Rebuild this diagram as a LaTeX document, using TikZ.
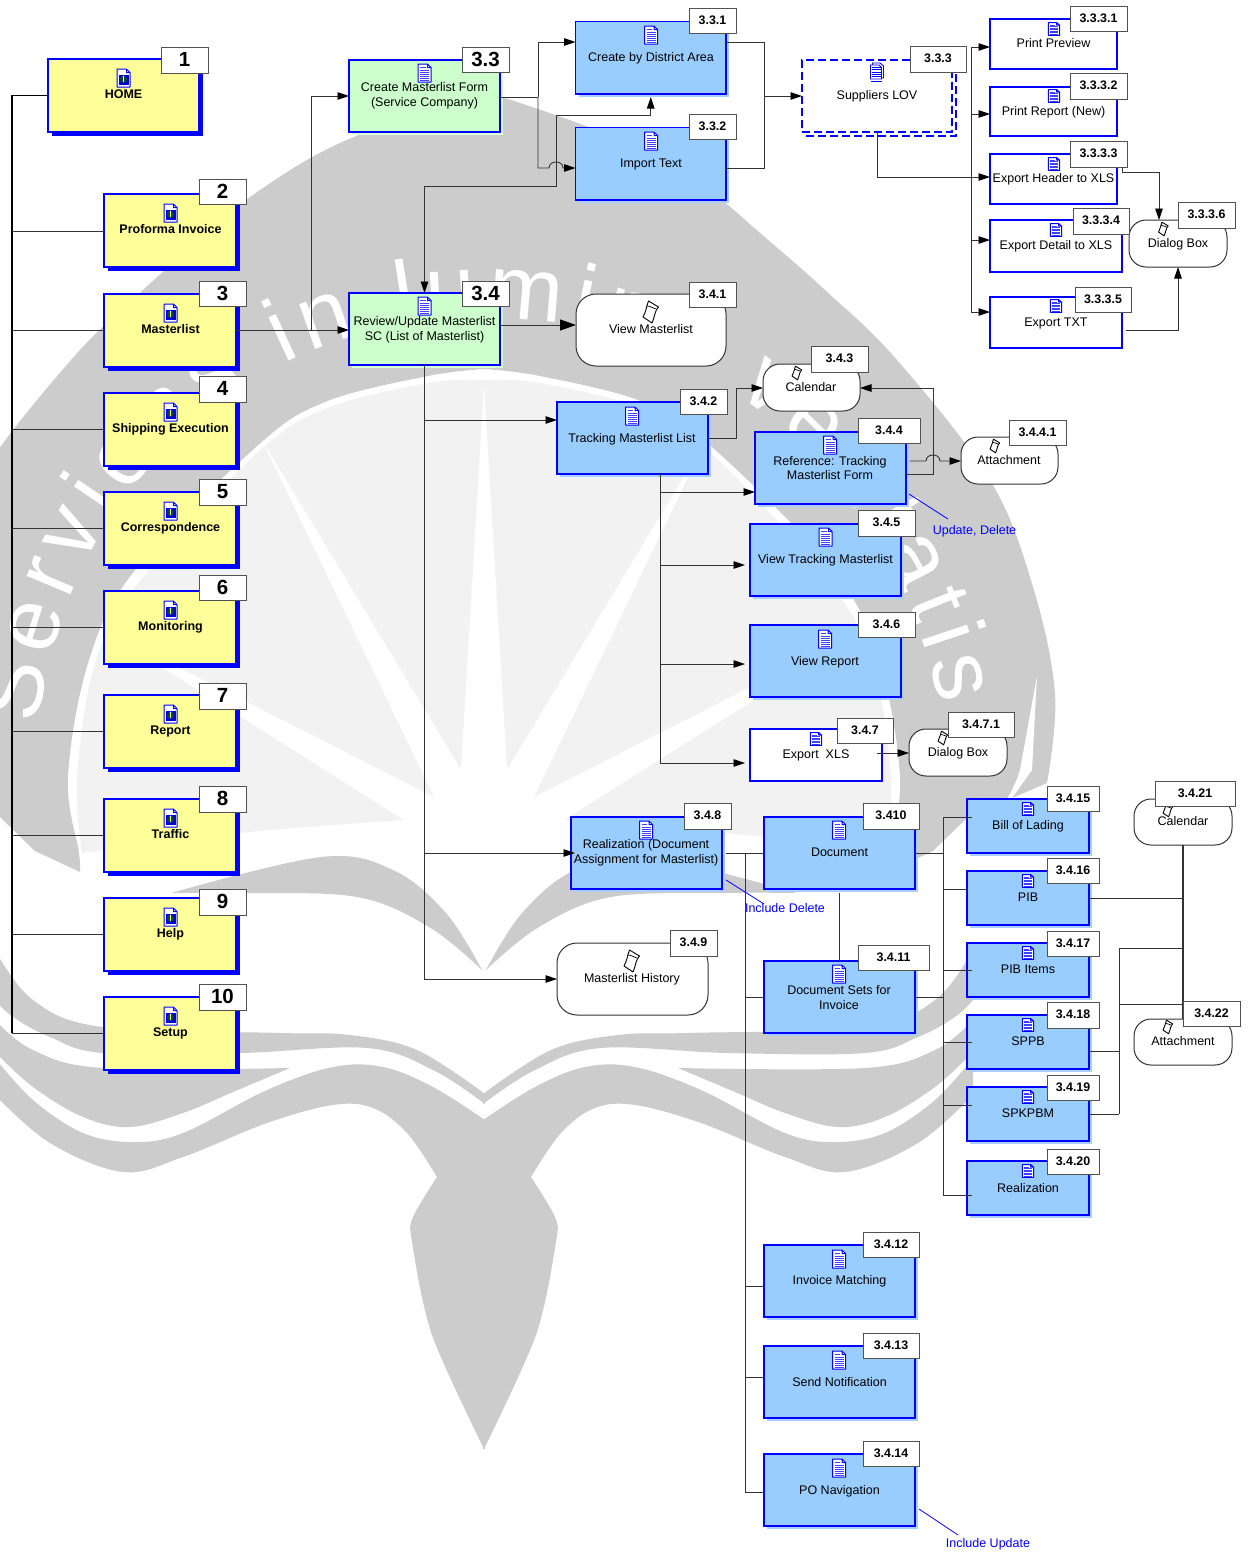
\documentclass[tikz,border=0pt]{standalone}
\usepackage{fontspec}
\setmainfont{Liberation Sans}
\usetikzlibrary{arrows.meta,shadows,decorations.text}
\definecolor{wmgray}{HTML}{CCCCCC}
\definecolor{wmlight}{HTML}{F2F2F2}
\definecolor{boxyellow}{HTML}{FFFF99}
\definecolor{boxgreen}{HTML}{CCFFCC}
\definecolor{boxblue}{HTML}{99CCFF}
\definecolor{shblue}{HTML}{A9CFFF}
\definecolor{shgreen}{HTML}{D8FFD8}
\definecolor{linecol}{HTML}{333333}
\definecolor{pureblue}{HTML}{0000FF}
\tikzset{
  boxbase/.style={rectangle,inner sep=0pt,outer sep=0pt,draw=pureblue,line width=1.4pt},
  yellowbox/.style={boxbase,fill=boxyellow,general shadow={shadow xshift=4pt,shadow yshift=-4pt,fill=pureblue}},
  greenbox/.style={boxbase,fill=boxgreen,general shadow={shadow xshift=3pt,shadow yshift=-3pt,fill=shgreen}},
  bluebox/.style={boxbase,fill=boxblue,general shadow={shadow xshift=3pt,shadow yshift=-3pt,fill=shblue}},
  whitebox/.style={boxbase,fill=white},
  dashbox/.style={boxbase,fill=white,dash pattern=on 8pt off 4pt,general shadow={shadow xshift=4pt,shadow yshift=-4pt,draw=pureblue,line width=1.2pt,dash pattern=on 8pt off 4pt,fill=white}},
  dialogbox/.style={rectangle,inner sep=0pt,outer sep=0pt,draw=linecol,line width=1pt,fill=white,rounded corners=17pt},
  bigdialog/.style={dialogbox,rounded corners=20pt},
  numlabel/.style={rectangle,inner sep=0pt,outer sep=0pt,draw=linecol!85!white,line width=1pt,fill=white,font=\fontsize{12.4}{14}\selectfont\bfseries,text=black},
  biglabel/.style={numlabel,font=\fontsize{20.5}{22}\selectfont\bfseries},
  txt/.style={inner sep=0pt,outer sep=0pt,yshift=-1pt,align=center,font=\fontsize{12.5}{14.5}\selectfont,text=black,text height=9pt,text depth=2.6pt},
  txtm/.style={inner sep=0pt,outer sep=0pt,yshift=-1pt,align=center,font=\fontsize{12.5}{14.5}\selectfont,text=black},
  txtb/.style={txt,font=\fontsize{12.5}{14.5}\selectfont\bfseries},
  bluenote/.style={txt,text=pureblue},
  conn/.style={draw=linecol,line width=.9pt},
  arr/.style={conn,-{Triangle[length=11.5pt,width=7.5pt,color=black,fill=black]}},
  barr/.style={conn,{Triangle[length=11.5pt,width=7.5pt,color=black,fill=black]}-{Triangle[length=11.5pt,width=7.5pt,color=black,fill=black]}},
  bigarr/.style={conn,-{Triangle[length=16pt,width=11pt,color=black,fill=black]}},
  blueline/.style={draw=pureblue,line width=.8pt},
  wm/.style={fill=wmgray},
  doc/.pic={
    \fill[white] (-6.5,-9) -- (3,-9) -- (6.5,-5.5) -- (6.5,9) -- (-6.5,9) -- cycle;
    \foreach \yy in {-3,-1,1,3,5,7} \draw[pureblue!75!white,line width=.9pt] (-4.5,\yy) -- (4.5,\yy);
    \draw[pureblue!75!white,line width=.9pt] (-4.5,-5.5) -- (1,-5.5);
    \draw[pureblue,line width=1pt,line join=round] (-6.5,-9) -- (3,-9) -- (6.5,-5.5) -- (6.5,9) -- (-6.5,9) -- cycle (3,-9) -- (3,-5.5) -- (6.5,-5.5);
  },
  docstack/.pic={
    \draw[pureblue,fill=white,line width=.9pt] (-4.5,-9) -- (3,-9) -- (6.5,-6) -- (6.5,6) -- (-4.5,6) -- cycle;
    \draw[pureblue,fill=white,line width=.9pt] (-6.5,-7) -- (2,-7) -- (4.5,-4.5) -- (4.5,7) -- (-6.5,7) -- cycle;
    \foreach \yy in {-4.5,-2.2,.1,2.4,4.7} \draw[pureblue,line width=.9pt] (-5,\yy) -- (3.5,\yy);
    \draw[pureblue,line width=1pt] (-6,9.3) -- (4.5,9.3);
  },
  info/.pic={
    \fill[white] (-6.5,-9) -- (3,-9) -- (6.5,-5.5) -- (6.5,9) -- (-6.5,9) -- cycle;
    \draw[pureblue,line width=1pt,line join=round] (-6.5,-9) -- (3,-9) -- (6.5,-5.5) -- (6.5,9) -- (-6.5,9) -- cycle (3,-9) -- (3,-5.5) -- (6.5,-5.5);
    \fill[pureblue!85!black] (-5,-3.5) rectangle (5,6.5);
    \fill[teal!55!black] (0,1.5) circle[radius=3.6pt];
    \draw[yellow!60!white,line width=1.1pt] (0,-.6) -- (0,3.8);
    \fill[yellow!60!white] (0,-1.6) circle[radius=.8pt];
  },
  note/.pic={
    \draw[black,fill=white,line width=.9pt,line join=round] (-2.5,-11) -- (7.5,-5) .. controls (4,-2) and (4,4) .. (1,11) -- (-8,5) .. controls (-5,0) and (-4.5,-6) .. (-2.5,-11) -- cycle;
    \draw[black,line width=.7pt] (-4.4,-6) .. controls (-1,-6.5) and (3,-3) .. (5.2,-3);
  }
}
\newcommand{\bx}[6]{\node[#2,minimum width={(#5-#3)*1pt},minimum height={(#6-#4)*1pt}] (#1) at ({(#3+#5)/2},{(#4+#6)/2}) {};}
\newcommand{\tx}[5]{\node[#2] (#1) at (#3,#4) {#5};}
\newcommand{\ic}[5]{\pic[xscale=#4,yscale=#5] at (#2,#3) {#1};}
\newcommand{\lb}[7]{\node[#6,minimum width={(#4-#2)*1pt},minimum height={(#5-#3)*1pt}] (#1) at ({(#2+#4)/2},{(#3+#5)/2}) {\raisebox{1.1pt}{#7}};}
\newcommand{\ybx}[5]{\bx{#1}{yellowbox}{104}{#2}{236}{#2+73}\ic{info}{170.5}{#2+19}{1}{1}\tx{#1-t}{txtb}{170.5}{#2+35.5}{#4}}
\newcommand{\wmhalf}{%
  % shield rim
  \fill[wm] plot[smooth,tension=.6] coordinates {(485,96) (457,100) (340,143) (260,190) (208,233) (143,290) (71,360) (-22,480) (-65,587) (-87,694) (-79,783)}
     -- (0,817) -- (35,851) -- (80,872)
     -- plot[smooth,tension=.6] coordinates {(80,872) (79,853) (68,777) (89,660) (135,570) (256,447) (325,402) (428,376) (485,369)} -- cycle;
  % inner light field
  \fill[wmlight] plot[smooth,tension=.6] coordinates {(485,380) (428,383) (325,409) (256,454) (143,577) (96,660) (77,777) (82,853)}
     -- plot[smooth,tension=.6] coordinates {(82,853) (250,832) (404,820)} -- (485,820) -- cycle;
  % book leaf
  \fill[wm] plot[smooth,tension=.6] coordinates {(171,893) (321,857) (393,870) (446,913) (482,970)}
     -- plot[smooth,tension=.6] coordinates {(482,970) (429,927) (357,897) (243,893) (171,893)} -- cycle;
  % band 1
  \fill[wm] plot[smooth,tension=.6] coordinates {(-5,950) (33,1000) (103,1027) (283,1033) (350,1035) (417,1050) (485,1094)}
     -- plot[smooth,tension=.6] coordinates {(485,1104) (433,1070) (367,1048) (240,1053) (103,1053) (50,1037) (13,1017) (-5,1000)} -- cycle;
  % band 2
  \fill[wm] plot[smooth,tension=.6] coordinates {(-5,1020) (33,1050) (103,1068) (290,1068)}
     -- plot[smooth,tension=.6] coordinates {(290,1068) (233,1092) (183,1113) (130,1127) (83,1117) (33,1087) (-5,1052)} -- cycle;
  % band 3 and tail
  \fill[wm] plot[smooth,tension=.6] coordinates {(-5,1058) (33,1100) (83,1133) (133,1142) (183,1133) (267,1090) (333,1067) (383,1067) (433,1087) (485,1120)}
     -- (485,1449)
     -- plot[smooth,tension=.5] coordinates {(484,1449) (432,1335) (412,1242) (413,1217) (437,1177)}
     -- plot[smooth,tension=.6] coordinates {(437,1177) (407,1133) (373,1108) (333,1105) (267,1123) (183,1157) (123,1172) (50,1143) (-5,1095)} -- cycle;
  % rim sliver
  \fill[white] (-69,676) -- (-52,770) .. controls (-40,810) and (-10,835) .. (8,840) -- (-32,815) -- (-64,770) -- cycle;
}
\begin{document}
\begin{tikzpicture}[x=1pt,y=-1pt]
\useasboundingbox (0,0) rectangle (1248,1553);
\begin{scope}
\clip (0,0) rectangle (1248,1553);
\wmhalf
\begin{scope}[xshift=968pt,xscale=-1]
\wmhalf
\end{scope}
% white star rays
\fill[white] (404,820) -- (95,625) -- (434,797) -- (262,440) -- (461,770) -- (484,385) -- (507,770) -- (706,440) -- (534,797) -- (873,625) -- (564,820) -- cycle;
% motto
\path[decorate,decoration={text along path,text align={fit to path},
  text={|\fontsize{90}{90}\selectfont\color{white}|Serviens in lumine veritatis}}]
  (38,725) .. controls (70,470) and (263,318) .. (484,318) .. controls (705,318) and (890,470) .. (940,705);
\end{scope}

% ---------- yellow menu
\bx{home}{yellowbox}{48}{59}{199}{132}\ic{info}{123.5}{78}{1}{1}\tx{home-t}{txtb}{123.5}{94.5}{HOME}
\ybx{pro}{194}{2}{Proforma Invoice}{}
\ybx{mas}{294}{3}{Masterlist}{}
\ybx{shi}{393}{4}{Shipping Execution}{}
\ybx{cor}{492}{5}{Correspondence}{}
\ybx{mon}{591}{6}{Monitoring}{}
\ybx{rep}{695}{7}{Report}{}
\ybx{tra}{799}{8}{Traffic}{}
\ybx{hel}{898}{9}{Help}{}
\ybx{set}{997}{10}{Setup}{}

% ---------- green
\bx{b33}{greenbox}{349}{60}{500}{132}\ic{doc}{424.5}{73}{1}{1}\tx{b33-t}{txtm}{424.5}{95}{Create Masterlist Form\\(Service Company)}
\bx{b34}{greenbox}{349}{293}{500}{365}\ic{doc}{424.5}{306}{1}{1}\tx{b34-t}{txtm}{424.5}{329}{Review/Update Masterlist\\SC (List of Masterlist)}

% ---------- 3.3 branch
\bx{b331}{bluebox}{575.5}{21.5}{726}{94}\ic{doc}{651}{35}{1}{1}\tx{b331-t}{txt}{651}{57}{Create by District Area}
\bx{b332}{bluebox}{575.5}{127.5}{726}{200}\ic{doc}{651}{141}{1}{1}\tx{b332-t}{txt}{651}{163}{Import Text}
\bx{sup}{dashbox}{802}{60}{952}{132}\ic{docstack}{877}{72}{1}{1}\tx{sup-t}{txt}{877}{95}{Suppliers LOV}
\bx{pp}{whitebox}{990}{19}{1117}{69}\ic{doc}{1054}{29}{.85}{.72}\tx{pp-t}{txt}{1053.5}{43}{Print Preview}
\bx{pr}{whitebox}{990}{87}{1117}{136}\ic{doc}{1054}{96}{.85}{.72}\tx{pr-t}{txt}{1053.5}{111}{Print Report (New)}
\bx{eh}{whitebox}{990}{154}{1117}{204}\ic{doc}{1054}{164}{.85}{.72}\tx{eh-t}{txt}{1053.5}{178}{Export Header to XLS}
\bx{ed}{whitebox}{990}{220}{1122}{272}\ic{doc}{1056}{230}{.85}{.72}\tx{ed-t}{txt}{1056}{245}{Export Detail to XLS}
\bx{et}{whitebox}{990}{297}{1122}{348}\ic{doc}{1056}{306}{.85}{.72}\tx{et-t}{txt}{1056}{322}{Export TXT}
\bx{dlg}{dialogbox}{1129}{220}{1227}{267}\ic{note}{1163.5}{229}{.62}{.62}\tx{dlg-t}{txt}{1178}{243}{Dialog Box}

% ---------- 3.4 branch
\bx{vm}{bigdialog}{576}{294}{726}{366}\ic{note}{651}{312}{1}{1}\tx{vm-t}{txt}{651}{329.5}{View Masterlist}
\bx{tml}{bluebox}{557}{402}{708}{474}\ic{doc}{632}{416}{1}{1}\tx{tml-t}{txt}{632}{438}{Tracking Masterlist List}
\bx{cal}{dialogbox}{763}{364}{860}{411}\ic{note}{797}{373}{.62}{.62}\tx{cal-t}{txt}{811}{387}{Calendar}
\bx{b344}{bluebox}{755}{432}{906}{504}\ic{doc}{830}{445}{1}{1}\tx{b344-t}{txtm}{830}{467}{Reference: Tracking\\Masterlist Form}
\bx{att}{dialogbox}{961}{437}{1058}{484}\ic{note}{995}{446}{.62}{.62}\tx{att-t}{txt}{1009}{460}{Attachment}
\bx{b345}{bluebox}{750}{524}{901}{596}\ic{doc}{825.5}{537}{1}{1}\tx{b345-t}{txt}{825.5}{559}{View Tracking Masterlist}
\bx{b346}{bluebox}{750}{625}{901}{697}\ic{doc}{825}{639}{1}{1}\tx{b346-t}{txt}{825}{661}{View Report}
\bx{xls}{whitebox}{750}{729}{882}{781}\ic{doc}{816}{739}{.85}{.72}\tx{xls-t}{txt}{816}{754}{Export~~XLS}
\bx{dlgb}{dialogbox}{909}{729}{1007}{776}\ic{note}{943}{738}{.62}{.62}\tx{dlgb-t}{txt}{958}{752}{Dialog Box}
\bx{rz}{bluebox}{571}{817}{722}{889}\ic{doc}{646}{830}{1}{1}\tx{rz-t}{txtm}{646}{852}{Realization (Document\\Assignment for Masterlist)}
\bx{b3410}{bluebox}{764}{817}{915}{889}\ic{doc}{839}{830}{1}{1}\tx{b3410-t}{txt}{839.5}{852}{Document}
\bx{mh}{bigdialog}{557}{943}{708}{1015}\ic{note}{632}{961}{1}{1}\tx{mh-t}{txt}{632}{978}{Masterlist History}
\bx{b3411}{bluebox}{764}{961}{915}{1033}\ic{doc}{839}{974}{1}{1}\tx{b3411-t}{txtm}{839}{996.5}{Document Sets for\\Invoice}
\bx{b3412}{bluebox}{764}{1245}{915}{1317}\ic{doc}{839}{1259}{1}{1}\tx{b3412-t}{txt}{839.5}{1280}{Invoice Matching}
\bx{b3413}{bluebox}{764}{1346}{915}{1418}\ic{doc}{839}{1360}{1}{1}\tx{b3413-t}{txt}{839.5}{1382}{Send Notification}
\bx{b3414}{bluebox}{764}{1454}{915}{1526}\ic{doc}{839}{1468}{1}{1}\tx{b3414-t}{txt}{839.5}{1490}{PO Navigation}
\bx{b3415}{bluebox}{967}{799}{1089}{853}\ic{doc}{1028}{809}{.85}{.72}\tx{b3415-t}{txt}{1028}{825}{Bill of Lading}
\bx{b3416}{bluebox}{967}{871}{1089}{925}\ic{doc}{1028}{881}{.85}{.72}\tx{b3416-t}{txt}{1028}{897}{PIB}
\bx{b3417}{bluebox}{967}{943}{1089}{997}\ic{doc}{1028}{953}{.85}{.72}\tx{b3417-t}{txt}{1028}{969}{PIB Items}
\bx{b3418}{bluebox}{967}{1015}{1089}{1069}\ic{doc}{1028}{1025}{.85}{.72}\tx{b3418-t}{txt}{1028}{1041}{SPPB}
\bx{b3419}{bluebox}{967}{1087}{1089}{1141}\ic{doc}{1028}{1097}{.85}{.72}\tx{b3419-t}{txt}{1028}{1113}{SPKPBM}
\bx{b3420}{bluebox}{967}{1161}{1089}{1215}\ic{doc}{1028}{1171}{.85}{.72}\tx{b3420-t}{txt}{1028}{1188}{Realization}
\bx{calb}{dialogbox}{1134}{799}{1232}{845}\ic{note}{1168}{810}{.62}{.62}\tx{calb-t}{txt}{1183}{821}{Calendar}
\bx{attb}{dialogbox}{1134}{1019}{1232}{1065}\ic{note}{1168}{1027}{.62}{.62}\tx{attb-t}{txt}{1183}{1041}{Attachment}

% ---------- blue annotations
\tx{nu}{bluenote}{974.5}{530}{Update, Delete}
\tx{ni}{bluenote}{785}{908}{Include Delete}
\tx{np}{bluenote}{988}{1543}{Include Update}
\coordinate (nu-a) at (909,494); \coordinate (nu-b) at (948,519);
\coordinate (ni-a) at (726,880); \coordinate (ni-b) at (764,904);
\coordinate (np-a) at (919,1509); \coordinate (np-b) at (958,1535);
\draw[blueline] (nu-a) -- (nu-b);
\draw[blueline] (ni-a) -- (ni-b);
\draw[blueline] (np-a) -- (np-b);

% ---------- connectors
\coordinate (sp) at (12,1033);
\draw[conn,black,line width=1.5pt] (home.west) -| (sp);
\draw[conn] (sp) -- (set.west |- sp);
\foreach \n/\y in {pro/231,mas/330,shi/429,cor/528,mon/627,rep/731,tra/835,hel/934}
  \draw[conn] (sp |- 0,\y) -- (\n.west |- 0,\y);
\coordinate (j1) at (311,330);
\draw[arr] (mas.east |- j1) -- (b34.west |- j1);
\draw[arr] (j1) |- (b33.west |- 0,96);
\coordinate (j2) at (538,97);
\draw[conn] (b33.east |- j2) -- (j2);
\draw[arr] (j2) |- (b331.west |- 0,42);
\draw[arr] (j2) -- (538,168) -- (549,168) .. controls (549,160) and (563,160) .. (563,168) -- (b332.west |- 0,168);
\draw[barr] (b34.north) -- (b34.north |- 0,186) -- (556,186) -- (556,115) -- (b331.south |- 0,115) -- (b331.south |- 0,97);
\coordinate (j3) at (764,96);
\draw[conn] (b331.east |- 0,42) -| (j3);
\draw[conn] (b332.east |- 0,168) -| (j3);
\draw[arr] (j3) -- (sup.west |- j3);
\coordinate (j4) at (971,177);
\draw[conn] (j4 |- 0,47) -- (j4 |- 0,312);
\draw[arr] (j4 |- 0,47) -- (pp.west |- 0,47);
\draw[arr] (j4 |- 0,114) -- (pr.west |- 0,114);
\draw[arr] (j4 |- 0,240) -- (ed.west |- 0,240);
\draw[arr] (j4 |- 0,312) -- (et.west |- 0,312);
\draw[arr] (sup.south) |- (eh.west |- j4);
\coordinate (e1) at (1122,167); \coordinate (e2) at (1126,330); \coordinate (e3) at (877,753);
\coordinate (j5) at (1159,172);
\draw[arr] (e1) |- (j5) -- (j5 |- dlg.north);
\draw[arr] (e2) -| (dlg.south);
\draw[bigarr] (b34.east |- 0,325) -- (vm.west |- 0,325);
\draw[arr] (b34.south) |- (mh.west |- 0,979);
\draw[arr] (b34.south |- 0,420) -- (tml.west |- 0,420);
\draw[arr] (b34.south |- 0,853) -- ([xshift=4pt]rz.west |- 0,853);
\coordinate (j6) at (736,388);
\draw[conn] (tml.east |- 0,438) -| (j6);
\draw[arr] (j6) -- (cal.west |- j6);
\coordinate (j7) at (660,474);
\draw[conn] (j7) -- (j7 |- 0,763);
\draw[arr] (j7 |- 0,492) -- (b344.west |- 0,492);
\draw[arr] (j7 |- 0,565) -- ([xshift=-5pt]b345.west |- 0,565);
\draw[arr] (j7 |- 0,664) -- ([xshift=-5pt]b346.west |- 0,664);
\draw[arr] (j7 |- 0,763) -- ([xshift=-5pt]xls.west |- 0,763);
\coordinate (j8) at (933,388);
\draw[arr] (b344.east |- 0,474) -| (j8) -- (cal.east |- j8);
\draw[arr] ([xshift=4pt]b344.east |- 0,461) -- (926,461) .. controls (926,453) and (940,453) .. (940,461) -- (att.west |- 0,461);
\draw[arr] (e3) -- (dlgb.west |- e3);
\coordinate (j9) at (745,853);
\draw[conn] ([xshift=4pt]rz.east |- j9) -- (b3410.west |- j9);
\draw[conn] (j9) -- (j9 |- 0,1492);
\draw[conn] (j9 |- 0,997) -- (b3411.west |- 0,997);
\draw[conn] (j9 |- 0,1286) -- (b3412.west |- 0,1286);
\draw[conn] (j9 |- 0,1377) -- (b3413.west |- 0,1377);
\draw[conn] (j9 |- 0,1492) -- (b3414.west |- 0,1492);
\draw[conn] ([yshift=-4pt]b3410.south) -- (b3411.north);
\coordinate (j10) at (943,853);
\draw[conn] (b3410.east |- j10) -- (j10);
\draw[conn] (b3411.east |- 0,997) -- (j10 |- 0,997);
\draw[conn] (j10 |- 0,817) -- (j10 |- 0,1195);
\draw[conn] (j10 |- 0,817) -- ([xshift=5pt]b3415.west |- 0,817);
\draw[conn] (j10 |- 0,889) -- (b3416.west |- 0,889);
\draw[conn] (j10 |- 0,970) -- ([xshift=5pt]b3417.west |- 0,970);
\draw[conn] (j10 |- 0,1042) -- ([xshift=5pt]b3418.west |- 0,1042);
\draw[conn] (j10 |- 0,1105) -- ([xshift=5pt]b3419.west |- 0,1105);
\draw[conn] (j10 |- 0,1195) -- ([xshift=5pt]b3420.west |- 0,1195);
\draw[conn,line width=1.3pt] (calb.south) -- (attb.north);
\draw[conn] (b3416.east |- 0,898) -- (calb.south |- 0,898);
\coordinate (j11) at (1119,948);
\draw[conn] (calb.south |- j11) -- (j11) -- (j11 |- 0,1114);
\draw[conn] (j11 |- 0,1004) -- (calb.south |- 0,1004);
\draw[conn] (b3418.east |- 0,1051) -- (j11 |- 0,1051);
\draw[conn] (b3419.east |- 0,1114) -- (j11 |- 0,1114);

% ---------- number labels
\lb{l1}{161}{47}{208}{73}{biglabel}{1}
\lb{l2}{199}{179}{246}{204}{biglabel}{2}
\lb{l3}{199}{281}{246}{306}{biglabel}{3}
\lb{l4}{199}{376}{246}{402}{biglabel}{4}
\lb{l5}{199}{479}{246}{505}{biglabel}{5}
\lb{l6}{199}{575}{246}{600}{biglabel}{6}
\lb{l7}{199}{683}{246}{709}{biglabel}{7}
\lb{l8}{199}{786}{246}{812}{biglabel}{8}
\lb{l9}{199}{889}{246}{915}{biglabel}{9}
\lb{l10}{199}{984}{246}{1010}{biglabel}{10}
\lb{l33}{462}{47}{509}{72}{biglabel}{3.3}
\lb{l34}{462}{281}{509}{306}{biglabel}{3.4}
\lb{l331}{689}{8}{736}{33}{numlabel}{3.3.1}
\lb{l332}{689}{114}{736}{139}{numlabel}{3.3.2}
\lb{l333}{910}{46}{966}{72}{numlabel}{3.3.3}
\lb{l3331}{1070}{6}{1127}{31}{numlabel}{3.3.3.1}
\lb{l3332}{1070}{73}{1127}{99}{numlabel}{3.3.3.2}
\lb{l3333}{1070}{141}{1127}{167}{numlabel}{3.3.3.3}
\lb{l3334}{1073}{208}{1129}{234}{numlabel}{3.3.3.4}
\lb{l3335}{1075}{287}{1131}{312}{numlabel}{3.3.3.5}
\lb{l3336}{1178}{202}{1235}{228}{numlabel}{3.3.3.6}
\lb{l341}{689}{282}{736}{307}{numlabel}{3.4.1}
\lb{l342}{680}{389}{727}{414}{numlabel}{3.4.2}
\lb{l343}{811}{346}{868}{372}{numlabel}{3.4.3}
\lb{l344}{858}{418}{920}{443}{numlabel}{3.4.4}
\lb{l3441}{1009}{420}{1066}{445}{numlabel}{3.4.4.1}
\lb{l345}{858}{510}{915}{536}{numlabel}{3.4.5}
\lb{l346}{858}{612}{915}{637}{numlabel}{3.4.6}
\lb{l347}{837}{718}{893}{743}{numlabel}{3.4.7}
\lb{l3471}{948}{712}{1014}{737}{numlabel}{3.4.7.1}
\lb{l348}{684}{803}{731}{829}{numlabel}{3.4.8}
\lb{l3410}{863}{803}{919}{829}{numlabel}{3.410}
\lb{l349}{670}{930}{717}{956}{numlabel}{3.4.9}
\lb{l3411}{858}{945}{929}{970}{numlabel}{3.4.11}
\lb{l3412}{863}{1232}{919}{1257}{numlabel}{3.4.12}
\lb{l3413}{863}{1333}{919}{1358}{numlabel}{3.4.13}
\lb{l3414}{863}{1441}{919}{1466}{numlabel}{3.4.14}
\lb{l3415}{1047}{786}{1099}{811}{numlabel}{3.4.15}
\lb{l3416}{1047}{858}{1099}{883}{numlabel}{3.4.16}
\lb{l3417}{1047}{931}{1099}{956}{numlabel}{3.4.17}
\lb{l3418}{1047}{1002}{1099}{1028}{numlabel}{3.4.18}
\lb{l3419}{1047}{1075}{1099}{1100}{numlabel}{3.4.19}
\lb{l3420}{1047}{1149}{1099}{1174}{numlabel}{3.4.20}
\lb{l3421}{1155}{781}{1235}{806}{numlabel}{3.4.21}
\lb{l3422}{1183}{1001}{1240}{1026}{numlabel}{3.4.22}
\end{tikzpicture}
\end{document}
